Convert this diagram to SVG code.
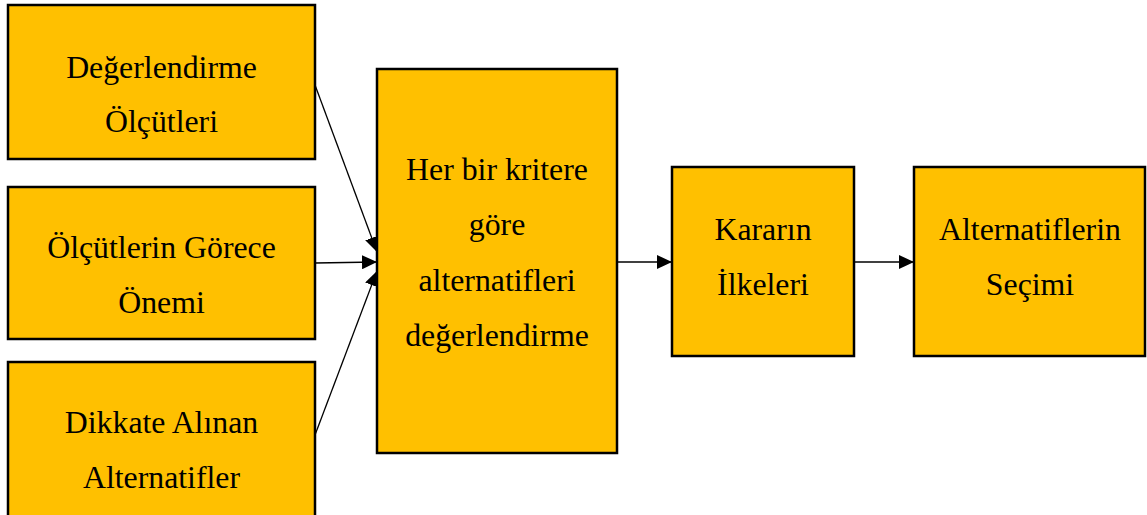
<svg xmlns="http://www.w3.org/2000/svg" width="1147" height="515" viewBox="0 0 1147 515">
<style>
.box{fill:#FFC000;stroke:#000;stroke-width:2.5}
.t{font-family:"Liberation Serif","Times New Roman",serif;font-size:31.8px;fill:#000;text-anchor:middle}
.c{stroke:#000;stroke-width:1.3;fill:none}
</style>
<defs>
<marker id="ah" viewBox="0 0 15 14" refX="15" refY="7" markerWidth="15" markerHeight="14" markerUnits="userSpaceOnUse" orient="auto">
<path d="M0,0 L15,7 L0,14 Z" fill="#000"/>
</marker>
</defs>
<rect width="1147" height="515" fill="#fff"/>
<g id="connectors">
<line class="c" x1="315" y1="85" x2="377" y2="252" marker-end="url(#ah)"/>
<line class="c" x1="315" y1="263" x2="377" y2="262" marker-end="url(#ah)"/>
<line class="c" x1="315" y1="435" x2="377" y2="271" marker-end="url(#ah)"/>
<line class="c" x1="617" y1="262" x2="672" y2="262" marker-end="url(#ah)"/>
<line class="c" x1="854" y1="262" x2="914" y2="262" marker-end="url(#ah)"/>
</g>
<g id="n1">
<rect class="box" x="8" y="5" width="307" height="154"/>
<text class="t" x="161.5" y="78">Değerlendirme</text>
<text class="t" x="161.5" y="132">Ölçütleri</text>
</g>
<g id="n2">
<rect class="box" x="8" y="187" width="307" height="152"/>
<text class="t" x="161.5" y="258">Ölçütlerin Görece</text>
<text class="t" x="161.5" y="313">Önemi</text>
</g>
<g id="n3">
<rect class="box" x="8" y="362" width="307" height="160"/>
<text class="t" x="161.5" y="433">Dikkate Alınan</text>
<text class="t" x="161.5" y="488">Alternatifler</text>
</g>
<g id="n4">
<rect class="box" x="377" y="69" width="240" height="384"/>
<text class="t" x="497" y="180">Her bir kritere</text>
<text class="t" x="497" y="235">göre</text>
<text class="t" x="497" y="291">alternatifleri</text>
<text class="t" x="497" y="346">değerlendirme</text>
</g>
<g id="n5">
<rect class="box" x="672" y="167" width="182" height="189"/>
<text class="t" x="763" y="240">Kararın</text>
<text class="t" x="763" y="295">İlkeleri</text>
</g>
<g id="n6">
<rect class="box" x="914" y="167" width="231" height="189"/>
<text class="t" x="1030" y="240">Alternatiflerin</text>
<text class="t" x="1030" y="295">Seçimi</text>
</g>
</svg>
